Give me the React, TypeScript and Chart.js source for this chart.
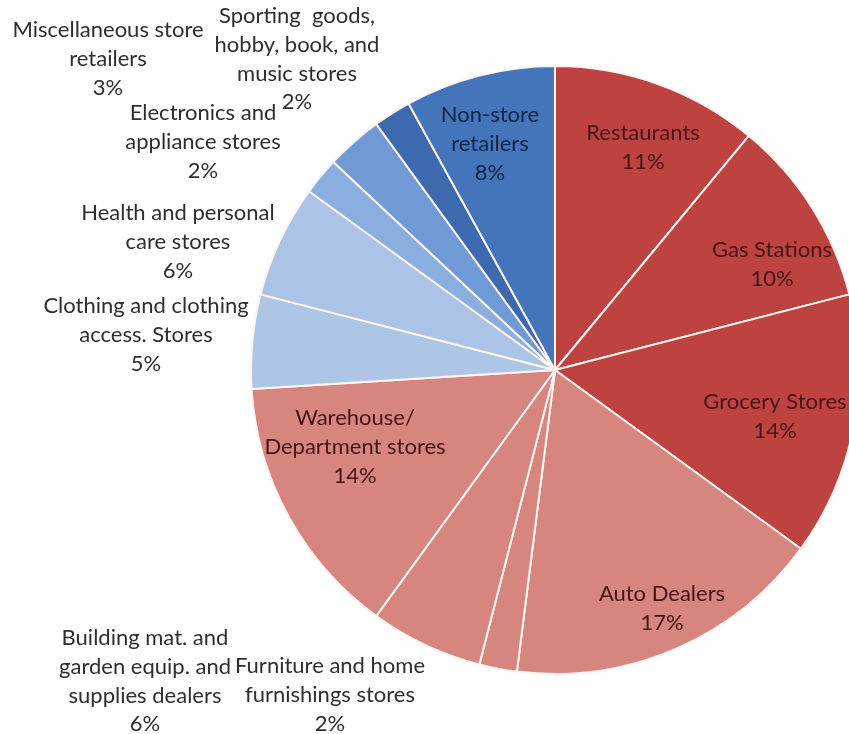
import React, { useEffect, useRef } from "react";
import { Chart, registerables } from "chart.js";

Chart.register(...registerables);

// Category names (split into display lines) in drawing order, clockwise from 12 o'clock
const categories: string[][] = [
  ["Restaurants"],
  ["Gas Stations"],
  ["Grocery Stores"],
  ["Auto Dealers"],
  ["Furniture and home", "furnishings stores"],
  ["Building mat. and", "garden equip. and", "supplies dealers"],
  ["Warehouse/", "Department stores"],
  ["Clothing and clothing", "access. Stores"],
  ["Health and personal", "care stores"],
  ["Electronics and", "appliance stores"],
  ["Miscellaneous store", "retailers"],
  ["Sporting  goods,", "hobby, book, and", "music stores"],
  ["Non-store", "retailers"],
];

// Share of retail sales, percent
const shares: number[] = [11, 10, 14, 17, 2, 6, 14, 5, 6, 2, 3, 2, 8];

const sliceColors: string[] = [
  "#BE4340",
  "#BE4340",
  "#BE4340",
  "#D6857F",
  "#D6857F",
  "#D6857F",
  "#D6857F",
  "#AEC6E5",
  "#AAC3E6",
  "#8AAEE0",
  "#6F9AD6",
  "#3D69AE",
  "#4475BA",
];

const labelColors: string[] = [
  "#461414",
  "#461414",
  "#461414",
  "#461414",
  "#2E2E2E",
  "#2E2E2E",
  "#461414",
  "#2E2E2E",
  "#2E2E2E",
  "#2E2E2E",
  "#2E2E2E",
  "#2E2E2E",
  "#122446",
];

// Label block centre positions (x, y of first line) in px
const labelAnchors: [number, number][] = [
  [643, 133],
  [772, 250],
  [775, 402],
  [662, 594],
  [330, 666],
  [145, 638],
  [355, 418],
  [146, 306],
  [178, 213],
  [203, 113],
  [108, 30],
  [297, 16],
  [490, 115],
];

const LINE_H = 28.8;

const labelPlugin = {
  id: "sliceLabels",
  afterDatasetsDraw(chart: any) {
    const ctx = chart.ctx as CanvasRenderingContext2D;
    ctx.save();
    ctx.font = "22px Lato";
    ctx.textAlign = "center";
    ctx.textBaseline = "middle";
    categories.forEach((lines, i) => {
      const [x, y] = labelAnchors[i];
      const all = [...lines, `${shares[i]}%`];
      ctx.fillStyle = labelColors[i];
      all.forEach((t, k) => ctx.fillText(t, x, y + k * LINE_H));
    });
    ctx.restore();
  },
};

export default function App() {
  const ref = useRef<HTMLCanvasElement | null>(null);

  useEffect(() => {
    if (!ref.current) return;
    const chart = new Chart(ref.current, {
      type: "pie",
      data: {
        labels: categories.map((l) => l.join(" ")),
        datasets: [
          {
            data: shares,
            backgroundColor: sliceColors,
            borderColor: "#FFF4F2",
            borderWidth: 2,
          },
        ],
      },
      options: {
        responsive: false,
        animation: false,
        layout: { padding: { top: 65, bottom: 59, left: 0, right: 0 } },
        plugins: {
          legend: { display: false },
          tooltip: { enabled: false },
          title: { display: false },
        },
      },
      plugins: [labelPlugin],
    });
    return () => chart.destroy();
  }, []);

  return (
    <div
      style={{
        position: "fixed",
        left: 0,
        top: 0,
        width: 849,
        height: 734,
        overflow: "hidden",
        background: "#fff",
      }}
    >
      <canvas ref={ref} width={1110} height={734} style={{ display: "block" }} />
    </div>
  );
}
